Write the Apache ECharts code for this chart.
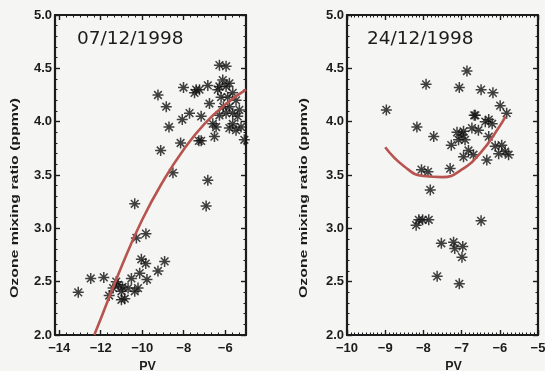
<!DOCTYPE html>
<html>
<head>
<meta charset="utf-8">
<script src="https://cdn.jsdelivr.net/npm/echarts@6/dist/echarts.min.js"></script>
<style>
  html, body { margin: 0; padding: 0; background: #f5f5f3; }
  #chart { width: 545px; height: 371px; }
</style>
</head>
<body>
<div id="chart"></div>
<script>
// Panel 1: 07/12/1998
const pv1 = [-13.08, -12.48, -11.85, -11.59, -11.40, -11.16, -11.00, -10.84, -11.00, -10.68,
  -10.52, -10.36, -10.20, -10.12, -10.04, -9.83, -9.77, -10.28, -9.82, -9.24, -8.92,
  -10.36, -9.11, -9.24, -8.84, -8.71, -8.52, -8.15, -8.07, -8.01, -7.72, -7.48, -7.40,
  -7.24, -7.16, -7.27, -7.16, -6.84, -6.92, -6.84, -6.76, -6.60, -6.52, -6.28, -5.96,
  -6.28, -6.12, -5.96, -5.80, -6.20, -5.88, -5.64, -6.09, -5.80, -5.48, -5.96, -5.64,
  -6.28, -5.32, -5.24, -5.08, -5.64, -5.40, -6.44, -5.80, -5.48, -6.36, -11.25, -10.95];
const ozone1 = [2.40, 2.53, 2.54, 2.37, 2.44, 2.47, 2.41, 2.34, 2.33, 2.44,
  2.53, 2.41, 2.44, 2.58, 2.71, 2.67, 2.52, 2.91, 2.95, 2.60, 2.69,
  3.23, 3.73, 4.25, 4.14, 3.95, 3.52, 3.80, 4.02, 4.32, 4.08, 4.27, 4.30,
  4.30, 4.05, 3.82, 3.82, 3.45, 3.21, 4.34, 4.17, 3.98, 3.86, 4.53, 4.52,
  4.33, 4.39, 4.33, 4.36, 4.23, 4.23, 4.27, 4.14, 4.14, 4.20, 4.08, 4.08,
  4.06, 4.11, 3.95, 3.83, 3.98, 4.05, 3.95, 3.94, 3.92, 4.30, 2.50, 2.45];
const fitPv1 = [-12.31, -12.0, -11.0, -10.0, -9.0, -8.0, -7.0, -6.0, -5.0];
const fitOzone1 = [2.00, 2.15, 2.64, 3.08, 3.44, 3.74, 3.98, 4.16, 4.30];

// Panel 2: 24/12/1998
const pv2 = [-8.97, -8.17, -7.93, -7.73, -6.86, -7.06, -6.49, -6.18, -5.99, -5.82,
  -6.67, -7.30, -8.05, -7.88, -7.82, -8.19, -8.12, -8.02, -7.86, -6.49,
  -7.53, -7.21, -7.18, -6.97, -6.99, -7.64, -7.06, -7.27, -7.12, -6.99,
  -6.64, -6.38, -6.29, -6.20, -6.73, -6.56, -6.91, -6.82, -6.95, -6.69,
  -6.29, -6.12, -5.95, -5.86, -5.77, -6.34, -6.03, -7.08, -6.95];
const ozone2 = [4.11, 3.95, 4.35, 3.86, 4.475, 4.32, 4.30, 4.27, 4.15, 4.08,
  4.06, 3.56, 3.55, 3.53, 3.36, 3.03, 3.08, 3.08, 3.08, 3.07,
  2.86, 2.87, 2.81, 2.83, 2.73, 2.55, 2.48, 3.78, 3.90, 3.875,
  4.06, 4.00, 4.02, 3.98, 3.94, 3.92, 3.83, 3.73, 3.67, 3.69,
  3.86, 3.77, 3.78, 3.72, 3.69, 3.64, 3.70, 3.83, 3.91];
const fitPv2 = [-9.0, -8.5, -8.0, -7.5, -7.0, -6.5, -6.0, -5.85];
const fitOzone2 = [3.76, 3.58, 3.49, 3.48, 3.55, 3.71, 3.96, 4.05];

// Axis ticks and labels
const majorPv1 = [-14, -12, -10, -8, -6];
const majorPv2 = [-10, -9, -8, -7, -6, -5];
const titles = ['07/12/1998', '24/12/1998'];
const yTitle = 'Ozone mixing ratio (ppmv)';

const INK = '#1c1c1c';
const FONT = 'Liberation Sans, Helvetica, Arial, sans-serif';
const fmtPv = v => (v < 0 ? '\u2212' + Math.abs(v) : String(v));

function steps(lo, hi, step) {
  const out = [];
  for (let i = 0; Math.round(lo * 100 + i * step * 100) <= Math.round(hi * 100); i++) {
    out.push(+(lo + i * step).toFixed(4));
  }
  return out;
}

// four x axes per panel: major/minor ticks on bottom and mirrored on top
function xAxesFor(grid, min, max, majors, minors, namePad) {
  const base = { type: 'value', gridIndex: grid, min: min, max: max, splitLine: { show: false } };
  return [
    Object.assign({}, base, {
      position: 'bottom',
      axisLine: { show: true, lineStyle: { color: INK, width: 2.2 } },
      axisTick: { show: true, inside: true, length: 5, customValues: majors, lineStyle: { color: INK, width: 1.4 } },
      axisLabel: { show: true, customValues: majors, formatter: fmtPv, color: INK, fontFamily: FONT,
                   fontWeight: 'bold', fontSize: 13, margin: 7 },
      name: 'PV', nameLocation: 'middle', nameGap: 25,
      nameTextStyle: { color: INK, fontFamily: FONT, fontWeight: 'bold', fontSize: 12.5, padding: namePad }
    }),
    Object.assign({}, base, {
      position: 'bottom',
      axisLine: { show: false },
      axisTick: { show: true, inside: true, length: 2.5, customValues: minors, lineStyle: { color: INK, width: 1 } },
      axisLabel: { show: false }
    }),
    Object.assign({}, base, {
      position: 'top',
      axisLine: { show: true, lineStyle: { color: INK, width: 2.2 } },
      axisTick: { show: true, inside: true, length: 5, customValues: majors, lineStyle: { color: INK, width: 1.4 } },
      axisLabel: { show: false }
    }),
    Object.assign({}, base, {
      position: 'top',
      axisLine: { show: false },
      axisTick: { show: true, inside: true, length: 2.5, customValues: minors, lineStyle: { color: INK, width: 1 } },
      axisLabel: { show: false }
    })
  ];
}

function yAxesFor(grid) {
  const base = {
    type: 'value', gridIndex: grid, min: 2, max: 5, interval: 0.5,
    splitLine: { show: false },
    axisLine: { show: true, lineStyle: { color: INK, width: 2.2 } },
    axisTick: { show: true, inside: true, length: 5, lineStyle: { color: INK, width: 1.4 } },
    minorTick: { show: true, splitNumber: 5, length: 2.5, lineStyle: { color: INK, width: 1 } }
  };
  return [
    Object.assign({}, base, {
      position: 'left',
      axisLabel: { show: true, formatter: v => v.toFixed(1), color: INK, fontFamily: FONT,
                   fontWeight: 'bold', fontSize: 13, margin: 3 }
    }),
    Object.assign({}, base, { position: 'right', axisLabel: { show: false } })
  ];
}

// rotated y-axis title, stretched along its baseline
function yTitleAt(x, y) {
  return {
    type: 'text', x: x, y: y, rotation: Math.PI / 2, scaleX: 1.38, scaleY: 1,
    style: { text: yTitle, fill: INK, font: 'bold 11.5px ' + FONT, align: 'center', verticalAlign: 'middle' }
  };
}

const zip = (a, b) => a.map((v, i) => [v, b[i]]);
const STAR = 'path://M5,0L5,10M0,5L10,5M1.5,1.5L8.5,8.5M1.5,8.5L8.5,1.5';

function scatter(xi, yi, xs, ys) {
  return {
    type: 'scatter', xAxisIndex: xi, yAxisIndex: yi, data: zip(xs, ys),
    symbol: STAR, symbolSize: 11, symbolKeepAspect: true,
    itemStyle: { color: 'rgba(0,0,0,0)', borderColor: '#121212', borderWidth: 1.5 },
    z: 3, silent: true
  };
}
function fit(xi, yi, xs, ys) {
  return {
    type: 'line', xAxisIndex: xi, yAxisIndex: yi, data: zip(xs, ys),
    smooth: true, showSymbol: false, symbol: 'none',
    lineStyle: { color: '#b8544f', width: 2.6 }, z: 4, silent: true
  };
}

const DATE_FONT = '18.5px DejaVu Sans, sans-serif';
const chart = echarts.init(document.getElementById('chart'), null, { renderer: 'canvas' });
chart.setOption({
  backgroundColor: '#f5f5f3',
  animation: false,
  grid: [
    { left: 55, top: 15, width: 191, height: 320, show: false, outerBoundsMode: 'none', containLabel: false },
    { left: 347, top: 15, width: 191, height: 320, show: false, outerBoundsMode: 'none', containLabel: false }
  ],
  xAxis: [].concat(
    xAxesFor(0, -14.2, -5, majorPv1, steps(-14, -5, 1 / 3), [0, 6, 0, 0]),
    xAxesFor(1, -10, -5, majorPv2, steps(-10, -5, 0.1), [0, 0, 0, 22])
  ),
  yAxis: [].concat(yAxesFor(0), yAxesFor(1)),
  graphic: [
    { type: 'text', left: 77, top: 30, style: { text: titles[0], fill: INK, font: DATE_FONT } },
    { type: 'text', left: 367, top: 30, style: { text: titles[1], fill: INK, font: DATE_FONT } },
    yTitleAt(15, 198),
    yTitleAt(304, 198)
  ],
  series: [
    scatter(0, 0, pv1, ozone1),
    fit(0, 0, fitPv1, fitOzone1),
    scatter(4, 2, pv2, ozone2),
    fit(4, 2, fitPv2, fitOzone2)
  ]
});
</script>
</body>
</html>
